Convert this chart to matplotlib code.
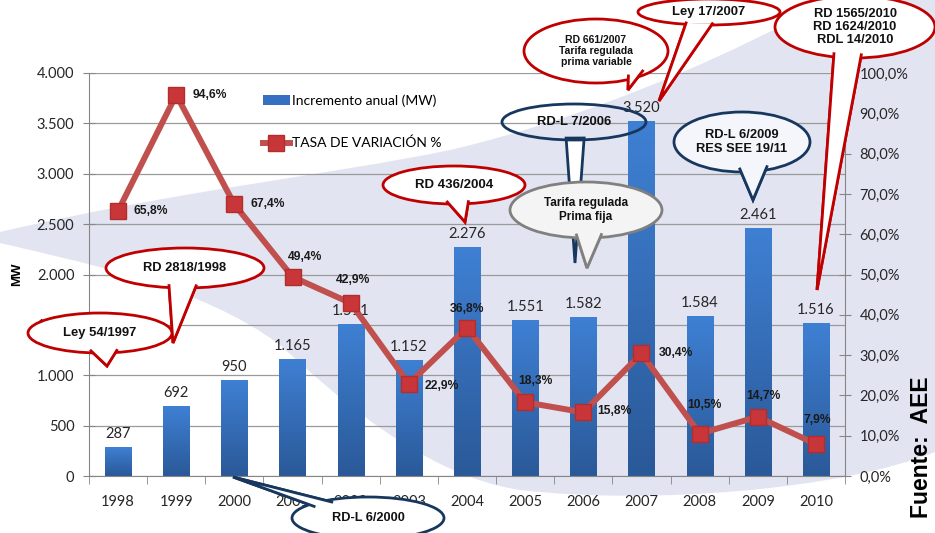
import numpy as np
import matplotlib
matplotlib.use("Agg")
import matplotlib.pyplot as plt
from matplotlib.patches import Ellipse, Polygon, Patch, PathPatch
from matplotlib.path import Path
from matplotlib.colors import LinearSegmentedColormap

# data
years = ['1998', '1999', '2000', '2001', '2002', '2003', '2004',
         '2005', '2006', '2007', '2008', '2009', '2010']
mw = [287, 692, 950, 1165, 1511, 1152, 2276, 1551, 1582, 3520, 1584, 2461, 1516]
rate = [65.8, 94.6, 67.4, 49.4, 42.9, 22.9, 36.8, 18.3, 15.8, 30.4, 10.5, 14.7, 7.9]

# label offsets for the rate values (pixels) and alignment
rate_off = [(15, 0, 'left'), (16, 0, 'left'), (16, 0, 'left'), (13, 20, 'center'),
            (2, 23, 'center'), (16, -2, 'left'), (0, 19, 'center'), (10, 21, 'center'),
            (14, 1, 'left'), (17, 0, 'left'), (5, 29, 'center'), (6, 21, 'center'),
            (1, 24, 'center')]

W, H = 935, 533
fig = plt.figure(figsize=(W / 100, H / 100), dpi=100)
fig.patch.set_facecolor('white')

TICK_FONT = 'Lato'
BOLD_FONT = 'Liberation Sans'

# background swoosh (decoration, figure pixel coords)
bg = fig.add_axes([0, 0, 1, 1], zorder=0)
bg.set_xlim(0, W)
bg.set_ylim(H, 0)
bg.axis('off')
verts = [(0, 232),
         (180, 190), (330, 175), (450, 150),
         (600, 115), (740, 50), (830, 0),
         (935, 0), (935, 452),
         (840, 490), (650, 505), (520, 490),
         (420, 475), (330, 390), (280, 345),
         (200, 285), (80, 262), (0, 243),
         (0, 232)]
codes = ([Path.MOVETO] + [Path.CURVE4] * 6 + [Path.LINETO] * 2 +
         [Path.CURVE4] * 9 + [Path.CLOSEPOLY])
bg.add_patch(PathPatch(Path(verts, codes), fc='#e2e5f1', ec='none'))

# main axes
ax = fig.add_axes([89 / W, 57 / H, 756 / W, 403 / H], zorder=1)
ax.patch.set_visible(False)
x = np.arange(len(years))
bars = ax.bar(x, mw, width=0.45, color='none', edgecolor='none', zorder=2)
cmap = LinearSegmentedColormap.from_list('bar', ['#2a5998', '#3f80d4'])
grad = np.linspace(0, 1, 256).reshape(-1, 1)
for b in bars:
    bx, bw, bh = b.get_x(), b.get_width(), b.get_height()
    im = ax.imshow(grad, extent=[bx, bx + bw, 0, bh], origin='lower',
                   aspect='auto', cmap=cmap, zorder=2)
    im.set_clip_path(b)
    ax.annotate(f"{b.get_height():,.0f}".replace(',', '.'),
                (bx + bw / 2, bh), xytext=(0, 6), textcoords='offset pixels',
                ha='center', va='bottom', fontsize=10.5, family=TICK_FONT,
                color='#262626', zorder=3)

ax.set_xlim(-0.5, len(years) - 0.5)
ax.set_ylim(0, 4000)
ax.set_yticks(np.arange(0, 4001, 500))
ax.set_yticklabels([f"{v:,}".replace(',', '.') for v in range(0, 4001, 500)])
ax.yaxis.grid(True, color='#9a9a9a', lw=0.9)
ax.set_axisbelow(True)
ax.set_xticks(x)
ax.set_xticklabels(years)
ax.set_xticks(np.arange(-0.5, len(years), 1), minor=True)
ax.tick_params(axis='x', which='major', length=0, pad=14)
ax.tick_params(axis='x', which='minor', length=6, direction='out', color='#868686')
ax.tick_params(axis='y', length=9, direction='inout', color='#868686', pad=6)
for lab in ax.get_xticklabels() + ax.get_yticklabels():
    lab.set_family(TICK_FONT)
    lab.set_fontsize(10.5)
    lab.set_color('#262626')
for s in ['left', 'bottom']:
    ax.spines[s].set_color('#868686')
ax.spines['top'].set_visible(False)
ax.spines['right'].set_visible(False)
ax.set_ylabel('MW', family=BOLD_FONT, fontweight='bold', fontsize=9.5, labelpad=10)

# rate line on right axis
ax2 = ax.twinx()
ax2.set_zorder(2)
ax2.patch.set_visible(False)
line, = ax2.plot(x, rate, color='#c0504d', lw=4.3, marker='s', markersize=11,
                 markerfacecolor='#c8363a', markeredgecolor='#b32d2d',
                 markeredgewidth=1, label='TASA DE VARIACIÓN %')
for xi, r, (dx, dy, ha) in zip(x, rate, rate_off):
    ax2.annotate(f"{r:.1f}%".replace('.', ','), (xi, r), xytext=(dx, dy),
                 textcoords='offset pixels', ha=ha, va='center', fontsize=8.7,
                 fontweight='bold', family=BOLD_FONT, color='#1a1a1a')
ax2.set_ylim(0, 100)
ax2.set_yticks(np.arange(0, 101, 10))
ax2.set_yticklabels([f"{v:.1f}%".replace('.', ',') for v in range(0, 101, 10)])
ax2.tick_params(axis='y', length=9, direction='inout', color='#868686', pad=6)
for lab in ax2.get_yticklabels():
    lab.set_family(TICK_FONT)
    lab.set_fontsize(10.5)
    lab.set_color('#262626')
for s in ['top', 'left', 'bottom']:
    ax2.spines[s].set_visible(False)
ax2.spines['right'].set_color('#868686')

# legend
bar_handle = Patch(facecolor='#3670c0', edgecolor='none')
fig.legend([bar_handle, line], ['Incremento anual (MW)', 'TASA DE VARIACIÓN %'],
           loc='upper left', bbox_to_anchor=(250 / W, 1 - 82 / H),
           frameon=False, prop={'family': TICK_FONT, 'size': 10},
           labelspacing=2.15, handlelength=2.0, handletextpad=0.1, borderpad=0.4)

fig.text(921 / W, 1 - 447 / H, 'Fuente:  AEE', rotation=90, ha='center',
         va='center', fontsize=16.5, fontweight='bold', family=BOLD_FONT)

# callouts overlay (pixel coords)
ov = fig.add_axes([0, 0, 1, 1], zorder=3)
ov.set_xlim(0, W)
ov.set_ylim(H, 0)
ov.axis('off')

RED, NAVY, GREY = '#c00000', '#17375e', '#808080'

# text, center, radii, base angles, tip, edge, ellipse fill, pointer fill, font size
callouts = [
    ('RD-L 7/2006', (574, 122), (72, 18), (97, 81), (575, 263), NAVY, 'none', 'white', 9.4),
    ('Tarifa regulada\nPrima fija', (586, 210), (76, 28), (98, 77), (587, 268), GREY, '#f4f4f4', '#f4f4f4', 8.5),
    ('Ley 54/1997', (100, 333), (72, 20), (98, 75), (107, 366), RED, 'white', 'white', 9.4),
    ('RD 2818/1998', (185, 268), (79, 20), (103, 81), (173, 343), RED, 'white', 'white', 9.3),
    ('RD 436/2004', (454, 185), (71, 19), (96, 77), (465, 222), RED, 'white', 'white', 9.5),
    ('RD 661/2007\nTarifa regulada\nprima variable', (596, 51), (72, 32), (60, 44), (628, 90), RED, 'white', 'white', 7.5),
    ('Ley 17/2007', (709, 12), (71, 13), (111, 87), (659, 101), RED, 'white', 'white', 9.4),
    ('RD 1565/2010\nRD 1624/2010\nRDL 14/2010', (855, 27), (80, 31), (107, 85), (817, 290), RED, 'white', 'white', 9.3),
    ('RD-L 6/2009\nRES SEE 19/11', (742, 142), (68, 30), (92, 66), (753, 200), NAVY, '#f5f6fb', '#f5f6fb', 9.3),
    ('RD-L 6/2000', (368, 518), (76, 21), (218, 238), (233, 477), NAVY, 'white', 'white', 9.2),
]

z = 1
for text, (cx, cy), (rx, ry), (a1, a2), tip, ec, fc, pfc, fs in callouts:
    b1 = (cx + 0.9 * rx * np.cos(np.radians(a1)), cy + 0.9 * ry * np.sin(np.radians(a1)))
    b2 = (cx + 0.9 * rx * np.cos(np.radians(a2)), cy + 0.9 * ry * np.sin(np.radians(a2)))
    lw = 2.0
    ov.add_patch(Polygon([b1, tip, b2], closed=True, fc=pfc, ec=ec, lw=lw, zorder=z))
    ov.add_patch(Ellipse((cx, cy), 2 * rx, 2 * ry, fc=fc, ec=ec, lw=lw, zorder=z + 0.1))
    if fc != 'none':
        ov.add_patch(Polygon([b1, tip, b2], closed=True, fc=pfc, ec='none', zorder=z + 0.2))
        ov.plot([b1[0], tip[0], b2[0]], [b1[1], tip[1], b2[1]], color=ec, lw=lw,
                zorder=z + 0.3, solid_joinstyle='miter')
    ov.text(cx, cy, text, ha='center', va='center', fontsize=fs, fontweight='bold',
            family=BOLD_FONT, color='#111111', linespacing=1.15, zorder=z + 0.4)
    z += 1

fig.savefig('out.png', dpi=100)
